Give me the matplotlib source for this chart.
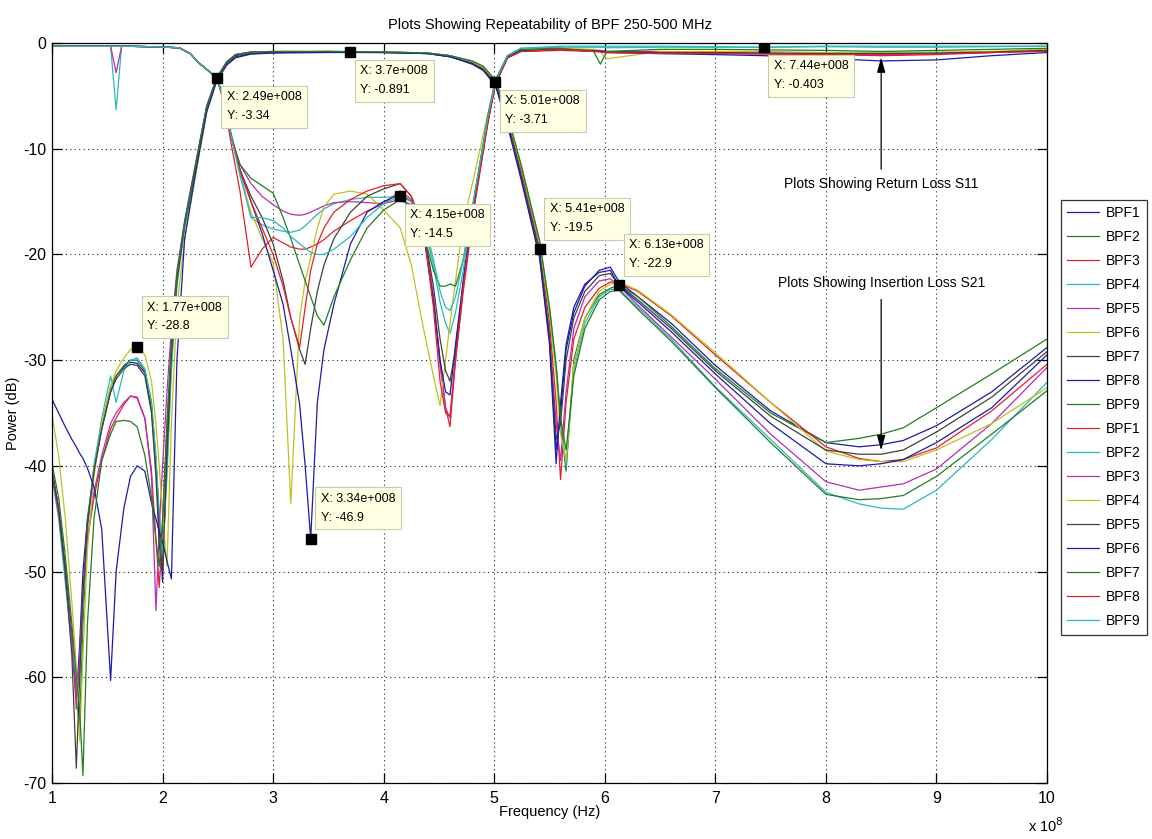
import matplotlib
matplotlib.use('Agg')
import matplotlib.pyplot as plt
from matplotlib.ticker import FuncFormatter
import numpy as np

plt.rcParams['font.family'] = ['Liberation Sans', 'DejaVu Sans']
plt.rcParams['axes.unicode_minus'] = False

# frequency grids in MHz
f21 = [100, 106, 112, 118, 122, 125, 128, 132, 138, 145,
       153, 158, 165, 171, 177, 184, 190, 194, 197, 200,
       204, 208, 213, 220, 230, 240, 249, 258, 266, 280,
       300, 350, 400, 440, 460, 480, 490, 501, 512, 525,
       541, 550, 556, 560, 565, 572, 582, 595, 605, 613,
       630, 660, 700, 750, 800, 830, 850, 870, 900, 950,
       1000]

f11 = [100, 130, 153, 158, 163, 190, 215, 225, 233, 240,
       249, 256, 262, 270, 280, 290, 300, 309, 316, 324,
       329, 334, 340, 346, 355, 370, 385, 400, 415, 425,
       436, 445, 451, 456, 460, 465, 472, 482, 494, 501,
       512, 524, 560, 590, 596, 602, 650, 700, 744, 800,
       850, 900, 950, 1000]

# first set of traces (dB)
s21 = [
    [-40.5, -44, -49.5, -56, -62, -57, -50, -45, -40.5, -36.5,
     -33, -31.5, -30.6, -30.2, -30.3, -31.2, -34.5, -40, -46, -51,
     -38, -29, -22, -17, -11.5, -6, -3.4, -2, -1.3, -1,
     -0.9, -0.85, -0.9, -1, -1.3, -1.9, -2.5, -3.9, -7.5, -13,
     -20, -28, -38.5, -35, -29, -25.5, -23, -21.5, -21.2, -22.6,
     -24, -26.5, -30.5, -34.8, -37.8, -38.2, -38, -37.6, -36.2, -33,
     -28.8],
    [-40.8, -44.5, -50.5, -57, -62, -64.5, -55, -46, -40, -36,
     -32.5, -31.5, -30.5, -30, -30, -31, -34, -39.5, -45, -49,
     -40, -30, -22.5, -17.2, -11.8, -6.2, -3.3, -1.8, -1.1, -0.9,
     -0.85, -0.8, -0.85, -0.95, -1.2, -1.8, -2.3, -3.6, -7, -12,
     -19, -25.5, -31, -36, -40.5, -30, -26, -23.8, -23.2, -22.9,
     -24, -26.8, -30.8, -35, -37.8, -37.4, -37, -36.4, -34.5, -31.3,
     -28],
    [-40.5, -44, -50, -57, -61.5, -59, -52, -47, -43, -39.5,
     -36.5, -35.5, -34.2, -33.4, -33.5, -35.5, -40.5, -47, -51.5, -46,
     -36, -28.5, -22, -17, -11.5, -6, -3.3, -1.8, -1.1, -0.85,
     -0.8, -0.8, -0.85, -0.95, -1.2, -1.8, -2.4, -3.7, -7.2, -12.3,
     -19.3, -26.5, -34, -41.3, -34, -28, -25, -23.2, -22.6, -22.7,
     -23.5, -25.8, -29.5, -34, -38.2, -39.3, -39.6, -39.4, -38.3, -34.8,
     -30.4],
    [-41, -45, -51, -57, -60, -61, -53, -45.5, -40, -35.5,
     -31.5, -34, -31, -30, -29.8, -30.8, -34, -39, -44.5, -48.5,
     -41, -31, -23, -17.5, -12, -6.3, -3.4, -1.8, -1.1, -0.9,
     -0.85, -0.85, -0.85, -0.95, -1.2, -1.7, -2.2, -3.5, -6.8, -11.8,
     -18.7, -25, -30.5, -35.5, -40, -31, -26.5, -24, -23.3, -23.3,
     -25, -28, -32.5, -37.5, -42.5, -43.6, -44, -44.1, -42.3, -37.5,
     -32.1],
    [-41, -44.5, -50, -56.5, -63, -58, -52, -47, -42.5, -39,
     -36, -35, -34, -33.4, -33.6, -35.5, -41, -53.7, -46, -40,
     -33, -27, -21.5, -16.8, -11.3, -5.9, -3.3, -1.8, -1.1, -0.85,
     -0.85, -0.85, -0.85, -1, -1.2, -1.9, -2.5, -3.8, -7.5, -12.8,
     -19.8, -27.5, -36, -39.5, -33, -27, -24, -22.5, -22.3, -23,
     -24.8, -27.8, -31.8, -37, -41.5, -42.3, -42, -41.7, -40.3, -36,
     -30.7],
    [-35.2, -39, -45, -53, -59, -66, -58, -48, -41, -36,
     -32.5, -31, -29.8, -29, -28.8, -29.5, -32, -36, -40, -44.5,
     -49.5, -36, -25, -18.5, -12.5, -6.5, -3.5, -1.9, -1.2, -0.9,
     -0.85, -0.8, -0.85, -0.95, -1.2, -1.8, -2.3, -3.6, -7, -12,
     -19, -25.5, -31.5, -37, -39.5, -30.5, -26, -23.5, -22.8, -22.6,
     -23.4, -25.7, -29.3, -34, -38.6, -39.4, -39.6, -39.6, -38.5, -36,
     -32.6],
    [-40.5, -44, -50, -58, -68.6, -60, -52, -45.5, -40.5, -36.5,
     -33, -31.8, -30.8, -30.4, -30.5, -31.5, -35, -41, -47.5, -50,
     -39, -29.5, -22.5, -17.2, -11.7, -6.1, -3.3, -1.9, -1.2, -0.95,
     -0.9, -0.85, -0.9, -1, -1.3, -1.9, -2.5, -3.8, -7.4, -12.8,
     -19.8, -27.8, -37.5, -36, -30, -26, -23.5, -22, -21.8, -22.9,
     -24.3, -27, -31, -35.3, -38.5, -38.9, -38.9, -38.5, -36.8, -33.5,
     -29.2],
    [-33.7, -35, -36.3, -37.5, -38.2, -38.8, -39.3, -40.2, -42, -46,
     -60.3, -50, -44, -41, -40, -40.5, -43.5, -45, -46.2, -47.2,
     -49, -50.7, -30, -18.5, -12.2, -6.5, -3.6, -2.1, -1.4, -1.05,
     -0.95, -0.9, -0.9, -1, -1.3, -2, -2.6, -4, -7.8, -13.2,
     -20.3, -28.5, -39.8, -34, -28.5, -25, -22.8, -21.7, -21.5, -23,
     -24.5, -27.3, -31.3, -36, -39.8, -40, -39.8, -39.4, -37.8, -34.5,
     -29.5],
    [-39.8, -43, -48.5, -55, -60, -63, -69.3, -55, -45, -39.5,
     -37, -35.8, -35.7, -35.8, -36.3, -39, -43, -47, -49.5, -45,
     -36, -28.5, -22, -17, -11.5, -6, -3.3, -1.8, -1.1, -0.85,
     -0.8, -0.8, -0.85, -0.95, -1.2, -1.7, -2.2, -3.5, -6.8, -11.8,
     -18.7, -25, -30.5, -35.5, -38.5, -31.5, -27, -24.3, -23.5, -23.4,
     -25.2, -28.2, -32.6, -37.8, -42.7, -43.2, -43.1, -42.8, -41, -37,
     -32.9],
]

# second set of traces (dB)
s11 = [
    [-0.3, -0.3, -0.3, -0.3, -0.3, -0.35, -0.45, -1.0, -1.9, -2.5,
     -3.3, -5.8, -9.5, -14, -21.2, -19.5, -18.4, -18.9, -19.3, -19.5,
     -19.5, -19.3, -19, -18.6, -17.8, -16.8, -15.9, -15.2, -14, -14.8,
     -17.5, -24, -30, -34.5, -36.3, -30, -23.5, -15.5, -7.8, -3.9,
     -1.4, -0.8, -0.7, -0.8, -0.8, -0.9, -0.9, -1.0, -1.0, -1.05,
     -1.1, -1.0, -0.9, -0.75],
    [-0.3, -0.3, -0.3, -6.3, -0.3, -0.35, -0.45, -1.0, -1.9, -2.5,
     -3.3, -5.3, -8.5, -12, -16.5, -17.2, -17.6, -17.8, -17.9, -17.7,
     -17.3, -16.8, -16.2, -15.7, -15.2, -14.8, -14.6, -14.6, -14.5, -15,
     -17, -21, -24.5, -26.5, -27.5, -25.5, -21.5, -14.5, -7.2, -3.6,
     -1.2, -0.5, -0.4, -0.4, -0.4, -0.45, -0.4, -0.4, -0.4, -0.35,
     -0.4, -0.4, -0.35, -0.3],
    [-0.3, -0.3, -0.3, -2.8, -0.3, -0.35, -0.45, -1.0, -1.9, -2.5,
     -3.3, -5.5, -8.8, -11.5, -13.3, -14.5, -15.3, -15.9, -16.2, -16.3,
     -16.2, -16, -15.7, -15.4, -15.1, -15, -15.1, -15.2, -14.8, -15.3,
     -17.8, -24, -30.5, -34.5, -35.5, -29.5, -23, -15, -7.5, -3.8,
     -1.3, -0.7, -0.6, -0.7, -0.7, -0.8, -0.8, -0.9, -0.95, -1.0,
     -1.1, -1.0, -0.9, -0.7],
    [-0.3, -0.3, -0.3, -0.3, -0.3, -0.35, -0.45, -1.0, -1.9, -2.5,
     -3.3, -5.5, -8.8, -12.5, -16, -18.5, -20.8, -28, -43.6, -26,
     -22.5, -20.3, -17.5, -15.5, -14.3, -14, -14.3, -15.8, -17.5, -21,
     -27, -31.5, -34.3, -30, -26.5, -22.5, -17, -12.5, -6.8, -3.6,
     -1.2, -0.6, -0.5, -0.6, -0.8, -1.5, -0.8, -0.8, -0.8, -0.9,
     -0.9, -0.85, -0.8, -0.6],
    [-0.3, -0.3, -0.3, -0.3, -0.3, -0.35, -0.45, -1.0, -1.9, -2.5,
     -3.3, -5.5, -8.8, -12, -14.5, -16.5, -19, -22.5, -26, -29,
     -30.4, -27, -23.5, -21, -18.5, -16, -14.5, -13.8, -13.3, -14.5,
     -17.5, -23, -28, -31, -32, -29, -22.5, -15, -7.5, -3.8,
     -1.3, -0.7, -0.6, -0.7, -0.75, -0.8, -0.9, -0.9, -0.95, -1.0,
     -1.0, -0.95, -0.85, -0.7],
    [-0.3, -0.3, -0.3, -0.3, -0.3, -0.35, -0.45, -1.0, -1.9, -2.5,
     -3.3, -5.5, -8.8, -12, -15, -18, -21.5, -24.7, -29, -34.2,
     -40, -46.9, -34, -29, -24.7, -19, -16, -15, -14.3, -15,
     -18, -24.5, -30, -33, -33.3, -28.5, -22.5, -15, -7.5, -3.9,
     -1.4, -0.8, -0.6, -0.8, -0.8, -0.9, -1.0, -1.1, -1.2, -1.45,
     -1.7, -1.6, -1.2, -0.9],
    [-0.3, -0.3, -0.3, -0.3, -0.3, -0.35, -0.45, -1.0, -1.9, -2.5,
     -3.3, -5.5, -8.8, -11.5, -12.8, -13.5, -14.2, -16.5, -18.5, -21,
     -22.5, -24, -25.8, -26.7, -24, -20.5, -17.5, -15.8, -14.8, -15.5,
     -18, -21.5, -23, -23, -22.8, -23, -20.5, -14.5, -7, -3.5,
     -1.2, -0.6, -0.5, -0.8, -2.0, -0.8, -0.6, -0.6, -0.65, -0.7,
     -0.8, -0.7, -0.6, -0.5],
    [-0.3, -0.3, -0.3, -0.3, -0.3, -0.35, -0.45, -1.0, -1.9, -2.5,
     -3.3, -5.5, -8.8, -12, -15, -17.5, -20, -23, -26, -28.8,
     -25, -21.5, -19, -17.5, -16, -14.8, -14, -13.5, -13.3, -14.5,
     -17.5, -25, -32, -35, -35.3, -30, -23, -15.3, -7.6, -3.9,
     -1.4, -0.8, -0.6, -0.8, -0.85, -0.9, -1.0, -1.0, -1.05, -1.1,
     -1.2, -1.1, -0.9, -0.8],
    [-0.3, -0.3, -0.3, -0.3, -0.3, -0.35, -0.45, -1.0, -1.9, -2.5,
     -3.3, -5.5, -8.8, -12.5, -16.5, -16.5, -16.8, -17.5, -18.3, -19,
     -19.4, -19.8, -20, -20, -19.5, -18.3, -16.5, -15.2, -14.5, -15,
     -16.5, -20.5, -23.5, -25, -25.3, -24, -20.5, -14.5, -7.2, -3.6,
     -1.2, -0.5, -0.3, -0.3, -0.3, -0.3, -0.3, -0.35, -0.4, -0.3,
     -0.3, -0.3, -0.3, -0.3],
]

labels = ['BPF%d' % i for i in range(1, 10)] * 2

# data tips: (MHz, dB, text)
tip_f = [177, 249, 370, 415, 501, 541, 613, 744, 334]
tip_db = [-28.8, -3.34, -0.891, -14.5, -3.71, -19.5, -22.9, -0.403, -46.9]
tip_txt = ['X: 1.77e+008\nY: -28.8', 'X: 2.49e+008\nY: -3.34',
           'X: 3.7e+008\nY: -0.891', 'X: 4.15e+008\nY: -14.5',
           'X: 5.01e+008\nY: -3.71', 'X: 5.41e+008\nY: -19.5',
           'X: 6.13e+008\nY: -22.9', 'X: 7.44e+008\nY: -0.403',
           'X: 3.34e+008\nY: -46.9']
tip_above = [True, False, False, False, False, True, True, False, True]

colors = ['#1c1ca6', '#1f7f1f', '#e3202a', '#2ab9bd', '#b52eb5', '#c2c01c', '#404040']


def main():
    fig = plt.figure(figsize=(11.52, 8.39), dpi=100)
    ax = fig.add_axes([52 / 1152, 1 - 783 / 839, 995 / 1152, 740 / 839])

    handles = []
    k = 0
    for row in s21:
        h, = ax.plot(np.array(f21) * 1e6, row, color=colors[k % 7], lw=0.9)
        handles.append(h)
        k += 1
    for row in s11:
        h, = ax.plot(np.array(f11) * 1e6, row, color=colors[k % 7], lw=0.9)
        handles.append(h)
        k += 1

    ax.set_xlim(1e8, 1e9)
    ax.set_ylim(-70, 0)
    ax.set_xticks(np.arange(1, 11) * 1e8)
    ax.set_yticks(np.arange(-70, 1, 10))
    ax.xaxis.set_major_formatter(FuncFormatter(lambda v, p: '%g' % (v / 1e8)))
    ax.grid(True, color='#222222', linestyle=(0, (1, 3)), lw=0.8)
    ax.tick_params(direction='in', length=7, width=0.9, top=True, right=True,
                   labelsize=11.5)
    ax.tick_params(axis='x', pad=6)
    ax.tick_params(axis='y', pad=4)
    for s in ax.spines.values():
        s.set_linewidth(0.9)

    ax.set_title('Plots Showing Repeatability of BPF 250-500 MHz', fontsize=10.5, pad=10)
    ax.set_xlabel('Frequency (Hz)', fontsize=10.5, labelpad=-1)
    ax.set_ylabel('Power (dB)', fontsize=10.5, labelpad=2)
    fig.text(1028 / 1152, 1 - 832 / 839, 'x 10$^{8}$', fontsize=10.5)

    for f, db, txt, above in zip(tip_f, tip_db, tip_txt, tip_above):
        ax.plot(f * 1e6, db, 's', color='black', ms=7, zorder=5)
        pad = 6
        if above:
            xy_off = (4 + pad, 9 + pad)
            va = 'bottom'
        else:
            xy_off = (4 + pad, -7 - pad)
            va = 'top'
        ax.annotate(txt, (f * 1e6, db), xytext=xy_off, textcoords='offset pixels',
                    ha='left', va=va, fontsize=9, linespacing=1.75, zorder=6,
                    bbox=dict(boxstyle='square,pad=0.45', fc='#ffffe3', ec='#c9c9b0', lw=0.8))

    arrow = dict(arrowstyle='-|>,head_length=0.9,head_width=0.25', color='black', lw=0.9)
    ax.annotate('', xy=(8.5e8, -1.1), xytext=(8.5e8, -12.2), arrowprops=arrow)
    ax.text(8.5e8, -13.3, 'Plots Showing Return Loss S11', ha='center', va='center',
            fontsize=10)
    ax.annotate('', xy=(8.5e8, -38.8), xytext=(8.5e8, -24.0), arrowprops=arrow)
    ax.text(8.5e8, -22.7, 'Plots Showing Insertion Loss S21', ha='center', va='center',
            fontsize=10)

    leg = fig.legend(handles, labels, loc='upper left',
                     bbox_to_anchor=(1061 / 1152, 1 - 200 / 839), fontsize=10,
                     frameon=True, fancybox=False, edgecolor='black',
                     handlelength=2.3, labelspacing=0.72, borderpad=0.45,
                     handletextpad=0.5, borderaxespad=0)
    leg.get_frame().set_linewidth(0.9)

    fig.savefig('out.png', dpi=100)


if __name__ == '__main__':
    main()
